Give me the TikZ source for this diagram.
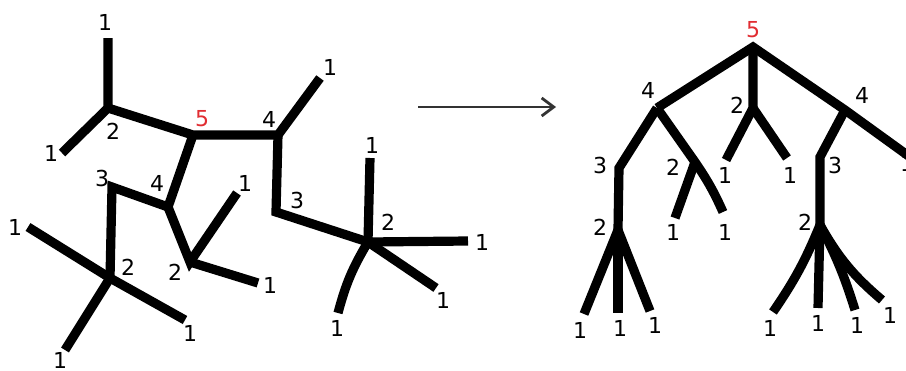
\documentclass[tikz,border=0pt]{standalone}
\usepackage{fontspec}
\setmainfont{DejaVu Sans}
\usepackage{tikz}
\usetikzlibrary{arrows.meta}
\definecolor{rootred}{RGB}{225,45,50}
\tikzset{
  branch/.style={line width=4.6pt},
  deg/.style={font=\fontsize{11}{13}\selectfont, inner sep=0pt},
  rootdeg/.style={deg, text=rootred}
}

\begin{document}
\begin{tikzpicture}[x=0.5pt,y=-0.5pt]
	\useasboundingbox (0,0) rectangle (906,370);
	% left tree: vertices
	\coordinate (a2) at (108,108); \coordinate (a1t) at (108,38); \coordinate (a1l) at (62,153);
	\coordinate (r5) at (193,135); \coordinate (b4) at (278,135); \coordinate (b1) at (320,78);
	\coordinate (c3) at (276,212); \coordinate (c2) at (368,242);
	\coordinate (c1u) at (370,158); \coordinate (c1r) at (468,241);
	\coordinate (c1d) at (436,288); \coordinate (c1l) at (338,313);
	\coordinate (d4) at (168,207); \coordinate (e3) at (112,187); \coordinate (e2) at (110,278);
	\coordinate (e1a) at (28,227); \coordinate (e1b) at (185,320); \coordinate (e1c) at (65,350);
	\coordinate (f2) at (190,262); \coordinate (f1a) at (237,193); \coordinate (f1b) at (258,283);
	% left tree: edges
	\draw[branch] (a1t) -- (a2) -- (a1l);
	\draw[branch] (a2) -- (r5) -- (b4) -- (b1);
	\draw[branch] (b4) -- (c3) -- (c2);
	\draw[branch] (c1u) -- (c2) -- (c1r); \draw[branch] (c2) -- (c1d);
	\draw[branch] (c2) to[bend right=8] (c1l);
	\draw[branch] (r5) -- (d4) -- (e3) -- (e2);
	\draw[branch] (e1a) -- (e2) -- (e1b); \draw[branch] (e2) -- (e1c);
	\draw[branch] (d4) -- (f2) -- (f1a); \draw[branch] (f2) -- (f1b);
	% left tree: labels
	\node[deg] (la1t) at (105,22) {1}; \node[deg] (la2) at (113,131) {2};
	\node[deg] (la1l) at (51,153) {1}; \node[rootdeg] (lr5) at (202,119) {5};
	\node[deg] (lb4) at (269,119) {4}; \node[deg] (lb1) at (330,67) {1};
	\node[deg] (lc3) at (297,200) {3}; \node[deg] (lc2) at (388,222) {2};
	\node[deg] (lc1u) at (372,145) {1}; \node[deg] (lc1r) at (482,242) {1};
	\node[deg] (lc1d) at (443,300) {1}; \node[deg] (lc1l) at (337,328) {1};
	\node[deg] (ld4) at (157,183) {4}; \node[deg] (le3) at (102,178) {3};
	\node[deg] (le2) at (128,267) {2}; \node[deg] (le1a) at (15,227) {1};
	\node[deg] (le1b) at (190,333) {1}; \node[deg] (le1c) at (60,360) {1};
	\node[deg] (lf2) at (175,272) {2}; \node[deg] (lf1a) at (245,183) {1};
	\node[deg] (lf1b) at (270,285) {1};
	% arrow
	\coordinate (from) at (418,107); \coordinate (to) at (556,107);
	\draw[line width=1.4pt, black!80, -{Straight Barb[length=6pt,width=9pt]}] (from) -- (to);
	% right tree: vertices
	\coordinate (t5) at (753,47);
	\coordinate (g4) at (657,108); \coordinate (m2) at (753,108); \coordinate (h4) at (845,110);
	\coordinate (h1) at (910,157);
	\coordinate (g3) at (619,168); \coordinate (g2) at (618,230);
	\coordinate (g1a) at (584,314); \coordinate (g1b) at (618,313); \coordinate (g1c) at (650,311);
	\coordinate (k2) at (695,162); \coordinate (k1a) at (675,218); \coordinate (k1b) at (723,212);
	\coordinate (m1a) at (726,160); \coordinate (m1b) at (787,158);
	\coordinate (h3) at (820,157); \coordinate (hh2) at (820,225);
	\coordinate (n1a) at (773,312); \coordinate (n1b) at (818,308);
	\coordinate (n1c) at (855,310); \coordinate (n1d) at (882,300);
	% right tree: edges
	\draw[branch] (g4) -- (t5) -- (h4) -- (h1);
	\draw[branch] (t5) -- (m2) -- (m1a); \draw[branch] (m2) -- (m1b);
	\draw[branch] (g4) -- (g3) -- (g2);
	\draw[branch] (g1a) -- (g2) -- (g1c); \draw[branch] (g2) -- (g1b);
	\draw[branch] (g4) -- (k2) to[bend left=5] (k1b); \draw[branch] (k2) -- (k1a);
	\draw[branch] (h4) -- (h3) -- (hh2);
	\draw[branch] (hh2) to[bend left=6] (n1a); \draw[branch] (hh2) -- (n1b);
	\draw[branch] (hh2) to[bend left=5] (n1c); \draw[branch] (hh2) to[bend right=10] (n1d);
	% right tree: labels
	\node[rootdeg] (lt5) at (753,30) {5};
	\node[deg] (lg4) at (648,90) {4}; \node[deg] (lm2) at (737,105) {2};
	\node[deg] (lh4) at (862,95) {4}; \node[deg] (lh1) at (907,163) {1};
	\node[deg] (lg3) at (600,165) {3}; \node[deg] (lg2) at (600,227) {2};
	\node[deg] (lg1a) at (580,330) {1}; \node[deg] (lg1b) at (620,328) {1};
	\node[deg] (lg1c) at (655,325) {1};
	\node[deg] (lk2) at (673,167) {2}; \node[deg] (lk1a) at (673,232) {1};
	\node[deg] (lk1b) at (725,232) {1};
	\node[deg] (lm1a) at (725,175) {1}; \node[deg] (lm1b) at (790,175) {1};
	\node[deg] (lh3) at (835,165) {3}; \node[deg] (lhh2) at (805,222) {2};
	\node[deg] (ln1a) at (770,328) {1}; \node[deg] (ln1b) at (818,323) {1};
	\node[deg] (ln1c) at (857,325) {1}; \node[deg] (ln1d) at (890,315) {1};
\end{tikzpicture}
\end{document}
